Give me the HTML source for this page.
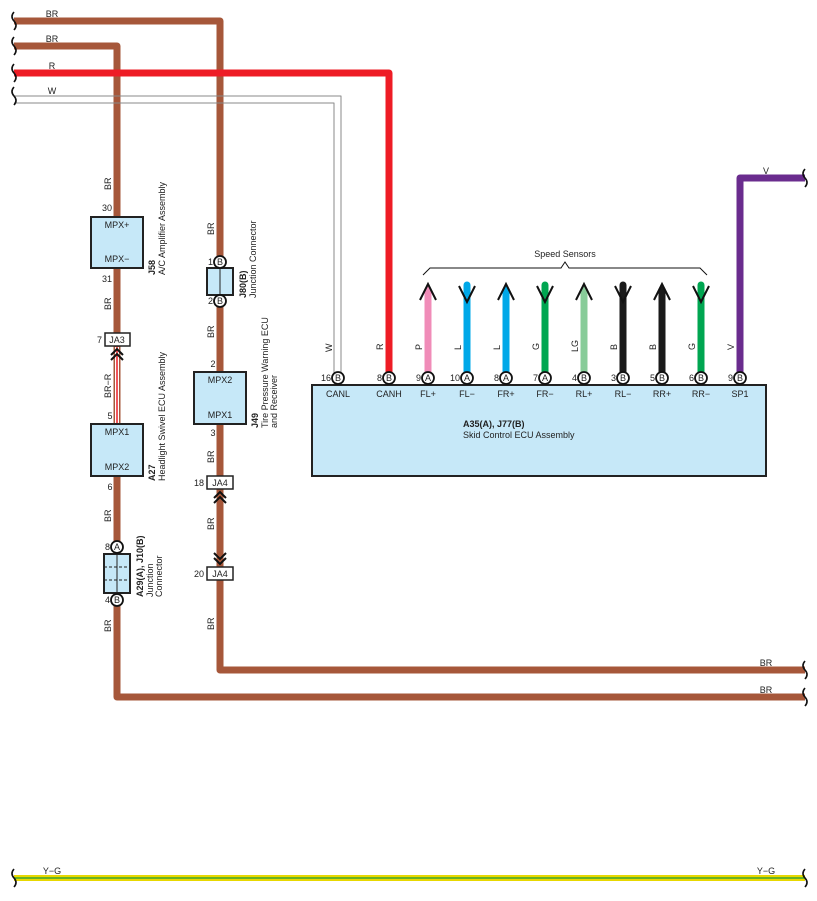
<!DOCTYPE html><html><head><style>body{margin:0;background:#fff}svg{display:block}text{font-family:"Liberation Sans",sans-serif;font-size:9px;fill:#222}</style></head><body>
<svg width="817" height="901" viewBox="0 0 817 901" xmlns="http://www.w3.org/2000/svg">
<defs>
<path id="sq" d="M0,-9 q-4,4.5 0,9 q4,4.5 0,9" fill="none" stroke="#111" stroke-width="1.6"/>
</defs>
<g fill="none" stroke-linejoin="round">
<path d="M14,21H220V670H805" stroke="#a6573a" stroke-width="7"/>
<path d="M14,46H117V697H805" stroke="#a6573a" stroke-width="7"/>
<path d="M14,73H389V378" stroke="#ee1c25" stroke-width="7"/>
<path d="M14,96H341V378M14,103H334V378" stroke="#888" stroke-width="1"/>
<path d="M740,378V178H805" stroke="#6a2c8e" stroke-width="7"/>
<path d="M117,347V424" stroke="#a6573a" stroke-width="7"/>
<path d="M117,347V424" stroke="#fff" stroke-width="4"/>
<path d="M117,347V424" stroke="#ee1c25" stroke-width="1.5"/>
<path d="M14,878H805" stroke="#e8d800" stroke-width="6"/>
<path d="M14,878H805" stroke="#1a9a3a" stroke-width="1.2"/>
</g>
<g stroke-linecap="round" stroke-width="7" fill="none">
<path d="M428,290V378" stroke="#f08cb8"/>
<path d="M467,285V378" stroke="#00a8e8"/>
<path d="M506,290V378" stroke="#00a8e8"/>
<path d="M545,285V378" stroke="#00a651"/>
<path d="M584,290V378" stroke="#88cc99"/>
<path d="M623,285V378" stroke="#1a1a1a"/>
<path d="M662,290V378" stroke="#1a1a1a"/>
<path d="M701,285V378" stroke="#00a651"/>
</g>
<g stroke="#111" stroke-width="2" fill="none">
<path d="M420,300L428,284L436,300M498,300L506,284L514,300M576,300L584,284L592,300M654,300L662,284L670,300"/>
<path d="M459,286L467,302L475,286M537,286L545,302L553,286M615,286L623,302L631,286M693,286L701,302L709,286"/>
<path d="M423,275L430,268H561L565,262L569,268H700L707,275" stroke-width="1"/>
<path d="M111,355L117,349L123,355M111,360L117,354L123,360"/>
<path d="M214,498L220,492L226,498M214,503L220,497L226,503"/>
<path d="M214,553L220,559L226,553M214,558L220,564L226,558"/>
</g>
<use href="#sq" x="14" y="21"/><use href="#sq" x="14" y="46"/><use href="#sq" x="14" y="73"/><use href="#sq" x="14" y="96"/>
<use href="#sq" x="805" y="178"/><use href="#sq" x="805" y="670"/><use href="#sq" x="805" y="697"/>
<use href="#sq" x="14" y="878"/><use href="#sq" x="805" y="878"/>
<g fill="#c6e8f8" stroke="#222" stroke-width="2">
<rect x="91" y="217" width="52" height="51"/>
<rect x="91" y="424" width="52" height="52"/>
<rect x="194" y="372" width="52" height="52"/>
<rect x="312" y="385" width="454" height="91"/>
<rect x="207" y="268" width="26" height="27"/>
<rect x="104" y="554" width="26" height="39"/>
</g>
<path d="M220,268V295M117,554V593" stroke="#222" stroke-width="1"/>
<path d="M104,567H130M104,580H130" stroke="#222" stroke-width="1" stroke-dasharray="3,2"/>
<g fill="#fff" stroke="#222" stroke-width="1.5">
<rect x="105" y="333" width="25" height="13"/>
<rect x="207" y="476" width="26" height="13"/>
<rect x="207" y="567" width="26" height="13"/>
</g>
<g fill="#fff" stroke="#111" stroke-width="1.8">
<circle cx="117" cy="547" r="6"/><circle cx="117" cy="600" r="6"/>
<circle cx="220" cy="262" r="6"/><circle cx="220" cy="301" r="6"/>
<circle cx="338" cy="378" r="6"/><circle cx="389" cy="378" r="6"/><circle cx="428" cy="378" r="6"/><circle cx="467" cy="378" r="6"/><circle cx="506" cy="378" r="6"/><circle cx="545" cy="378" r="6"/><circle cx="584" cy="378" r="6"/><circle cx="623" cy="378" r="6"/><circle cx="662" cy="378" r="6"/><circle cx="701" cy="378" r="6"/><circle cx="740" cy="378" r="6"/>
</g>
<g font-size="8" text-anchor="middle">
<text x="117" y="550">A</text><text x="117" y="603">B</text><text x="220" y="265">B</text><text x="220" y="304">B</text>
<text x="338" y="381">B</text><text x="389" y="381">B</text><text x="428" y="381">A</text><text x="467" y="381">A</text><text x="506" y="381">A</text><text x="545" y="381">A</text><text x="584" y="381">B</text><text x="623" y="381">B</text><text x="662" y="381">B</text><text x="701" y="381">B</text><text x="740" y="381">B</text>
</g>
<g text-anchor="end">
<text x="331" y="381">16</text><text x="382" y="381">8</text><text x="421" y="381">9</text><text x="460" y="381">10</text><text x="499" y="381">8</text><text x="538" y="381">7</text><text x="577" y="381">4</text><text x="616" y="381">3</text><text x="655" y="381">5</text><text x="694" y="381">6</text><text x="733" y="381">9</text>
<text x="110" y="550">8</text><text x="110" y="603">4</text><text x="213" y="265">1</text><text x="213" y="304">2</text>
<text x="102" y="343">7</text><text x="204" y="486">18</text><text x="204" y="577">20</text>
</g>
<g text-anchor="middle">
<text x="338" y="397">CANL</text><text x="389" y="397">CANH</text><text x="428" y="397">FL+</text><text x="467" y="397">FL−</text><text x="506" y="397">FR+</text><text x="545" y="397">FR−</text><text x="584" y="397">RL+</text><text x="623" y="397">RL−</text><text x="662" y="397">RR+</text><text x="701" y="397">RR−</text><text x="740" y="397">SP1</text>
<text x="117" y="228">MPX+</text><text x="117" y="262">MPX−</text>
<text x="117" y="435">MPX1</text><text x="117" y="470">MPX2</text>
<text x="220" y="383">MPX2</text><text x="220" y="418">MPX1</text>
<text x="117" y="343">JA3</text><text x="220" y="486">JA4</text><text x="220" y="577">JA4</text>
<text x="565" y="257">Speed Sensors</text>
<text x="52" y="17">BR</text><text x="52" y="42">BR</text><text x="52" y="69">R</text><text x="52" y="94">W</text>
<text x="766" y="174">V</text><text x="766" y="666">BR</text><text x="766" y="693">BR</text>
<text x="52" y="874">Y−G</text><text x="766" y="874">Y−G</text>
<text x="107" y="211">30</text><text x="107" y="282">31</text><text x="110" y="419">5</text><text x="110" y="490">6</text>
<text x="213" y="367">2</text><text x="213" y="436">3</text>
</g>
<text x="463" y="427" font-weight="bold">A35(A), J77(B)</text>
<text x="463" y="438">Skid Control ECU Assembly</text>
<g>
<text transform="translate(111,190) rotate(-90)">BR</text>
<text transform="translate(111,310) rotate(-90)">BR</text>
<text transform="translate(111,398) rotate(-90)">BR−R</text>
<text transform="translate(111,522) rotate(-90)">BR</text>
<text transform="translate(111,632) rotate(-90)">BR</text>
<text transform="translate(214,235) rotate(-90)">BR</text>
<text transform="translate(214,338) rotate(-90)">BR</text>
<text transform="translate(214,463) rotate(-90)">BR</text>
<text transform="translate(214,530) rotate(-90)">BR</text>
<text transform="translate(214,630) rotate(-90)">BR</text>
<text transform="translate(332,352) rotate(-90)">W</text>
<text transform="translate(383,350) rotate(-90)">R</text>
<text transform="translate(422,350) rotate(-90)">P</text>
<text transform="translate(461,350) rotate(-90)">L</text>
<text transform="translate(500,350) rotate(-90)">L</text>
<text transform="translate(539,350) rotate(-90)">G</text>
<text transform="translate(578,352) rotate(-90)">LG</text>
<text transform="translate(617,350) rotate(-90)">B</text>
<text transform="translate(656,350) rotate(-90)">B</text>
<text transform="translate(695,350) rotate(-90)">G</text>
<text transform="translate(734,350) rotate(-90)">V</text>
<text transform="translate(155,275) rotate(-90)" font-weight="bold">J58</text>
<text transform="translate(165,275) rotate(-90)">A/C Amplifier Assembly</text>
<text transform="translate(155,481) rotate(-90)" font-weight="bold">A27</text>
<text transform="translate(165,481) rotate(-90)">Headlight Swivel ECU Assembly</text>
<text transform="translate(143,597) rotate(-90)" font-weight="bold">A29(A), J10(B)</text>
<text transform="translate(153,597) rotate(-90)">Junction</text>
<text transform="translate(162,597) rotate(-90)">Connector</text>
<text transform="translate(246,298) rotate(-90)" font-weight="bold">J80(B)</text>
<text transform="translate(256,298) rotate(-90)">Junction Connector</text>
<text transform="translate(258,428) rotate(-90)" font-weight="bold">J49</text>
<text transform="translate(268,428) rotate(-90)">Tire Pressure Warning ECU</text>
<text transform="translate(277,428) rotate(-90)">and Receiver</text>
</g>
</svg></body></html>
